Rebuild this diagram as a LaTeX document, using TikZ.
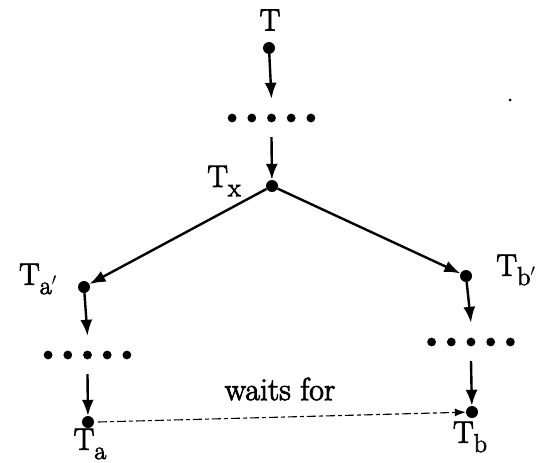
\documentclass[tikz,border=0pt]{standalone}
\usepackage{fontspec}
\newfontfamily\scanfont{Latin Modern Roman}[FakeBold=2.6]
\usetikzlibrary{arrows.meta}
\newcommand{\subx}[1]{\raisebox{-0.3em}{\fontsize{26}{30}\selectfont #1}}
\begin{document}
\begin{tikzpicture}[x=1pt,y=-1pt,
  dotnode/.style={circle,fill=black,inner sep=0pt,minimum size=12pt},
  rowdots/.style={inner sep=0pt,minimum width=90pt,minimum height=38pt,
    append after command={\pgfextra{\let\rn\tikzlastnode
      \foreach \i in {-2,...,2}{\fill (\rn.center) ++(\i*19.7pt,0) circle (4.4pt);}}}},
  lbl/.style={inner sep=0pt,font=\scanfont\fontsize{31}{36}\selectfont},
  flow/.style={line width=2.4pt,-{Latex[length=16pt,width=12pt]}},
  waits/.style={line width=1.1pt,dash pattern=on 9pt off 3pt on 4pt off 3pt,-{Latex[length=11pt,width=8pt]}}]
\useasboundingbox (0,0) rectangle (538,463);
% nodes
\node[dotnode] (T) at (269,48) {};
\node[rowdots] (r1) at (271.5,118) {};
\node[dotnode] (Tx) at (272,186) {};
\node[dotnode] (Tap) at (84,287) {};
\node[dotnode] (Tbp) at (466,276) {};
\node[rowdots] (r2) at (87.5,355) {};
\node[rowdots] (r3) at (471,342) {};
\node[dotnode] (Ta) at (88,422) {};
\node[dotnode] (Tb) at (472,412) {};
% labels
\node[lbl] (lT) at (270,20) {T};
\node[lbl] (lTx) at (224,181) {T\subx{x}};
\node[lbl] (lTap) at (38,279) {T\subx{a$'$}};
\node[lbl] (lTbp) at (516,270) {T\subx{b$'$}};
\node[lbl] (lTa) at (90,444) {T\subx{a}};
\node[lbl] (lTb) at (470,437) {T\subx{b}};
\node[lbl,font=\scanfont\fontsize{32}{36}\selectfont] (lw) at (280,389) {waits for};
% stray speck
\fill (510,100) circle (1.5pt);
% connectors
\draw[flow] (T) -- (r1.north);
\draw[flow] (r1.south) -- (Tx);
\draw[flow] (Tx) -- (Tap);
\draw[flow] (Tx) -- (Tbp);
\draw[flow] (Tap) -- (r2.north);
\draw[flow] (r2.south) -- (Ta);
\draw[flow] (Tbp) -- (r3.north);
\draw[flow] (r3.south) -- (Tb);
\draw[waits] (Ta) ++(10pt,0) -- (Tb);
\end{tikzpicture}
\end{document}
